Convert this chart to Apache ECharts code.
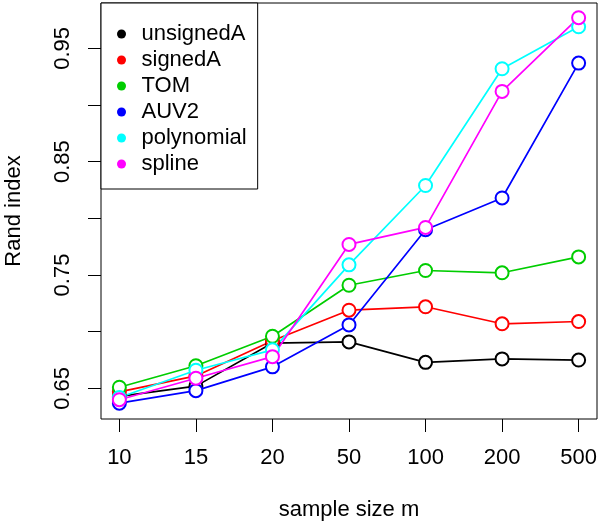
<!DOCTYPE html>
<html>
<head>
<meta charset="utf-8">
<script src="https://cdn.jsdelivr.net/npm/echarts@6/dist/echarts.min.js"></script>
<style>
    html, body { margin: 0; padding: 0; background: #fff; }
    #chartmain { width: 600px; height: 525px; }
</style>
</head>
<body>
<div id="chartmain"></div>
<script>
// sample sizes (x axis categories)
var sizes = ['10', '15', '20', '50', '100', '200', '500'];
var yTicks = [0.65, 0.70, 0.75, 0.80, 0.85, 0.90, 0.95];
var yLabels = [0.65, 0.75, 0.85, 0.95];

var seriesNames = ['unsignedA', 'signedA', 'TOM', 'AUV2', 'polynomial', 'spline'];
var unsignedA  = [0.643, 0.652, 0.690, 0.691, 0.673, 0.676, 0.675];
var signedA    = [0.647, 0.661, 0.692, 0.719, 0.722, 0.707, 0.709];
var tom        = [0.651, 0.670, 0.696, 0.741, 0.754, 0.752, 0.766];
var auv2       = [0.637, 0.648, 0.669, 0.706, 0.790, 0.818, 0.937];
var polynomial = [0.642, 0.666, 0.684, 0.759, 0.829, 0.932, 0.969];
var spline     = [0.640, 0.659, 0.678, 0.777, 0.792, 0.912, 0.977];
var colors = ['#000000', '#ff0000', '#00cd00', '#0000ff', '#00ffff', '#ff00ff'];

var FONT = 'Liberation Sans';

function pairs(vals) {
    // x position = index of sample size (1..7)
    return vals.map(function (v, i) { return [i + 1, v]; });
}

var allData = [unsignedA, signedA, tom, auv2, polynomial, spline];
var series = allData.map(function (vals, k) {
    return {
        name: seriesNames[k],
        type: 'line',
        data: pairs(vals),
        symbol: 'emptyCircle',
        symbolSize: 13,
        showSymbol: true,
        color: colors[k],
        lineStyle: { width: 1.7, color: colors[k] },
        itemStyle: { color: colors[k], borderWidth: 1.7 },
        emphasis: { disabled: true },
        animation: false
    };
});

var myChart = echarts.init(document.getElementById('chartmain'));
var option = {
    animation: false,
    grid: {
        left: 101, right: 3, top: 3, bottom: 106,
        outerBoundsMode: 'none',
        containLabel: false,
        show: true, borderColor: '#000', borderWidth: 1, backgroundColor: 'transparent'
    },
    legend: {
        orient: 'vertical',
        left: 101, top: 3,
        icon: 'circle',
        itemWidth: 30, itemHeight: 9, itemGap: 4,
        padding: [20, 11, 14, 16],
        borderColor: '#000', borderWidth: 1,
        backgroundColor: '#fff',
        selectedMode: false,
        data: seriesNames.map(function (n, k) {
            return { name: n, itemStyle: { color: colors[k], borderWidth: 0 } };
        }),
        textStyle: { fontFamily: FONT, fontSize: 22, color: '#000', lineHeight: 22 }
    },
    xAxis: {
        type: 'value',
        min: 0.76, max: 7.24,
        name: 'sample size m',
        nameLocation: 'middle',
        nameGap: 80,
        nameTextStyle: { fontFamily: FONT, fontSize: 22, color: '#000' },
        axisLine: { show: false },
        splitLine: { show: false },
        axisTick: {
            show: true, length: 13, customValues: [1, 2, 3, 4, 5, 6, 7],
            lineStyle: { color: '#000', width: 1 }
        },
        axisLabel: {
            customValues: [1, 2, 3, 4, 5, 6, 7],
            margin: 28,
            fontFamily: FONT, fontSize: 22, color: '#000',
            formatter: function (v) { return sizes[Math.round(v) - 1]; }
        }
    },
    yAxis: {
        type: 'value',
        min: 0.623, max: 0.990,
        name: 'Rand index',
        nameLocation: 'middle',
        nameGap: 76,
        nameRotate: 90,
        nameTextStyle: { fontFamily: FONT, fontSize: 22, color: '#000' },
        axisLine: { show: false },
        splitLine: { show: false },
        axisTick: {
            show: true, length: 13, customValues: yTicks,
            lineStyle: { color: '#000', width: 1 }
        },
        axisLabel: {
            customValues: yLabels,
            rotate: 90,
            margin: 27,
            fontFamily: FONT, fontSize: 22, color: '#000',
            formatter: function (v) { return v.toFixed(2); }
        }
    },
    series: series
};
myChart.setOption(option);
</script>
</body>
</html>
